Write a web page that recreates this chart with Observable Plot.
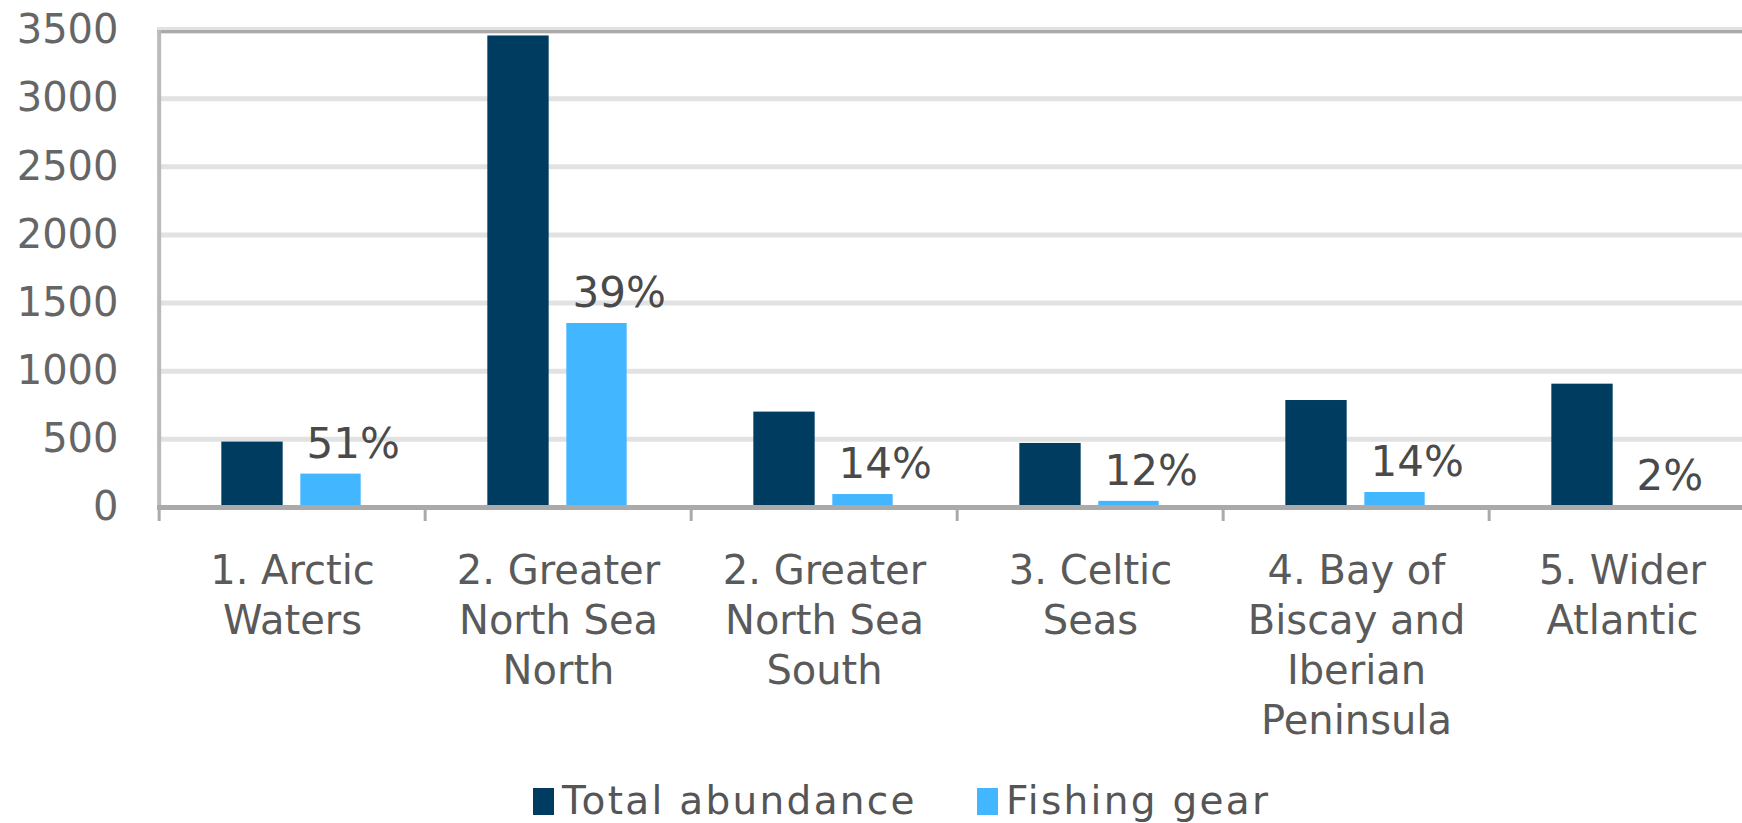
<!DOCTYPE html>
<html>
<head>
<meta charset="utf-8">
<script src="https://cdn.jsdelivr.net/npm/d3@7"></script>
<script src="https://cdn.jsdelivr.net/npm/@observablehq/plot@0.6"></script>
<style>
  html, body { margin: 0; padding: 0; background: #fff; overflow: hidden; }
  #chart { position: relative; width: 1742px; height: 823px; font-family: "DejaVu Sans", Verdana, sans-serif; }
  #legend { position: absolute; left: 533px; top: 781px; display: flex; align-items: center; font-size: 39px; line-height: 40px; color: #555; white-space: nowrap; letter-spacing: 2.3px; }
  .item { display: flex; align-items: center; margin-right: 60px; }
  .swatch { width: 21px; height: 27px; margin-right: 8px; }
</style>
</head>
<body>
<div id="chart"></div>
<script>
const categories = [
  "1. Arctic Waters",
  "2. Greater North Sea North",
  "2. Greater North Sea South",
  "3. Celtic Seas",
  "4. Bay of Biscay and Iberian Peninsula",
  "5. Wider Atlantic"
];
const tickLabels = [
  "1. Arctic\nWaters",
  "2. Greater\nNorth Sea\nNorth",
  "2. Greater\nNorth Sea\nSouth",
  "3. Celtic\nSeas",
  "4. Bay of\nBiscay and\nIberian\nPeninsula",
  "5. Wider\nAtlantic"
];
const totalAbundance = [480, 3460, 700, 470, 785, 905];
const fishingGear = [245, 1350, 95, 45, 110, 4];
const percentLabels = ["51%", "39%", "14%", "12%", "14%", "2%"];
const yTicks = [0, 500, 1000, 1500, 2000, 2500, 3000, 3500];
const seriesNames = ["Total abundance", "Fishing gear"];
const seriesColors = ["#003b60", "#42b6ff"];

const width = 1742, height = 770;
const marginLeft = 157, marginRight = -15, marginTop = 30, marginBottom = 263;
const bw = (width - marginLeft - marginRight) / categories.length;
const labelMap = new Map(categories.map((c, i) => [c, tickLabels[i]]));

const rows = categories.map((c, i) => ({cat: c, total: totalAbundance[i], fishing: fishingGear[i], pct: percentLabels[i]}));

const plot = Plot.plot({
  width, height, marginLeft, marginRight, marginTop, marginBottom,
  style: {fontFamily: "DejaVu Sans, Verdana, sans-serif", background: "#fff", overflow: "hidden"},
  x: {type: "band", domain: categories, padding: 0, label: null},
  y: {domain: [0, 3500], label: null},
  marks: [
    Plot.ruleY(yTicks.slice(1, -1), {stroke: "#e2e2e2", strokeWidth: 5}),
    Plot.ruleY([3500], {stroke: "#e2e2e2", strokeWidth: 7}),
    Plot.ruleY([3500], {stroke: "#aaaaaa", strokeWidth: 3, dy: 1}),
    Plot.ruleX([categories[0]], {x: d => d, dx: -bw / 2, y1: 0, y2: 3500, stroke: "#bbbbbb", strokeWidth: 4}),
    Plot.barY(rows, {x: "cat", y: "total", fill: seriesColors[0], insetLeft: bw / 2 - 71, insetRight: bw / 2 + 9}),
    Plot.barY(rows, {x: "cat", y: "fishing", fill: seriesColors[1], insetLeft: bw / 2 + 8, insetRight: bw / 2 - 69}),
    Plot.ruleY([0], {stroke: "#aaaaaa", strokeWidth: 5}),
    Plot.axisX({tickSize: 14, tickFormat: () => "", dx: -bw / 2, stroke: "#aaaaaa", strokeWidth: 3, label: null}),
    Plot.axisX({tickSize: 0, tickPadding: 41, tickFormat: d => labelMap.get(d), fontSize: 40, lineHeight: 1.25, fill: "#5a5a5a", label: null}),
    Plot.axisY({ticks: yTicks, tickSize: 0, tickPadding: 39, fontSize: 40, fill: "#666", label: null, tickFormat: d => String(d)}),
    Plot.text(rows, {x: "cat", y: "fishing", text: "pct", textAnchor: "start", lineAnchor: "middle", dx: 14, dy: -30, fontSize: 42, fill: "#4a4a4a"})
  ]
});

const chart = document.getElementById("chart");
chart.appendChild(plot);

const legend = document.createElement("div");
legend.id = "legend";
seriesNames.forEach((name, i) => {
  const item = document.createElement("div");
  item.className = "item";
  const sw = document.createElement("span");
  sw.className = "swatch";
  sw.style.background = seriesColors[i];
  const t = document.createElement("span");
  t.textContent = name;
  item.appendChild(sw);
  item.appendChild(t);
  legend.appendChild(item);
});
chart.appendChild(legend);
</script>
</body>
</html>
